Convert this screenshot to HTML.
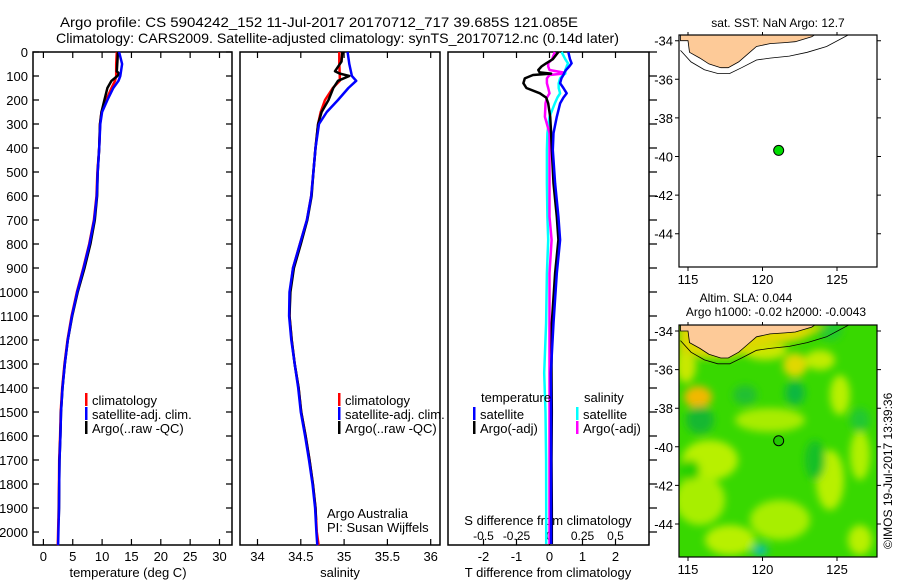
<!DOCTYPE html>
<html><head><meta charset="utf-8"><style>
html,body{margin:0;padding:0;background:#fff}
svg{display:block;font-family:"Liberation Sans",sans-serif}
text{fill:#000}
</style></head><body>
<svg id="chart" width="900" height="580" viewBox="0 0 900 580" xmlns="http://www.w3.org/2000/svg">
<defs>
<filter id="blur" x="-20%" y="-20%" width="140%" height="140%"><feGaussianBlur stdDeviation="4"/></filter>
<clipPath id="m1clip"><rect x="679" y="35" width="198" height="232"/></clipPath>
<clipPath id="m2clip"><rect x="679" y="325" width="198" height="232"/></clipPath>
</defs>
<text x="60" y="27" font-size="14" textLength="518" lengthAdjust="spacingAndGlyphs">Argo profile: CS 5904242_152 11-Jul-2017 20170712_717 39.685S 121.085E</text>
<text x="56" y="43" font-size="14" textLength="563" lengthAdjust="spacingAndGlyphs">Climatology: CARS2009. Satellite-adjusted climatology: synTS_20170712.nc (0.14d later)</text>
<text x="778" y="27" font-size="12" text-anchor="middle">sat. SST: NaN Argo: 12.7</text>
<text x="746" y="302" font-size="12" text-anchor="middle">Altim. SLA: 0.044</text>
<text x="776" y="316" font-size="12" text-anchor="middle">Argo h1000: -0.02 h2000: -0.0043</text>
<text transform="translate(892,549) rotate(-90)" font-size="12">©IMOS 19-Jul-2017 13:39:36</text>
<g id="plots"></g>
</svg>
<script>
// ---- data ----
const depthT = [0,50,100,120,150,200,250,300,400,500,600,700,800,900,1000,1100,1200,1300,1400,1500,1600,1700,1800,1900,2000,2055];
const tempClim = [12.5,12.4,12.4,12.2,11.6,10.7,9.9,9.65,9.5,9.2,9.05,8.6,7.8,6.8,5.7,4.8,4.1,3.6,3.2,2.95,2.85,2.7,2.65,2.6,2.5,2.45];
const tempSat  = [12.9,13.4,13.1,12.8,11.9,10.9,10.0,9.7,9.5,9.25,9.1,8.65,7.85,6.85,5.75,4.85,4.15,3.65,3.25,3.0,2.9,2.75,2.7,2.65,2.55,2.5];
const depthA = [0,40,80,90,100,120,150,200,250,300,400,500,600,700,800,900,1000,1100,1200,1300,1400,1500,1600,1700,1800,1900,1950];
const tempArgo = [12.7,12.6,12.5,12.9,12.6,11.6,10.9,10.4,9.9,9.65,9.5,9.25,9.15,8.75,8.0,7.0,5.85,4.9,4.15,3.65,3.25,3.0,2.9,2.75,2.7,2.65,2.6];
const salClim = [34.945,34.945,34.95,34.95,34.87,34.78,34.73,34.70,34.67,34.645,34.62,34.57,34.49,34.41,34.375,34.37,34.395,34.43,34.475,34.505,34.555,34.60,34.64,34.67,34.685,34.705];
const salSat  = [35.04,35.06,35.09,35.14,35.05,34.93,34.80,34.71,34.67,34.645,34.62,34.57,34.49,34.41,34.37,34.365,34.39,34.43,34.47,34.50,34.55,34.595,34.635,34.665,34.68,34.69];
const salArgo = [34.98,34.97,34.895,34.95,35.06,34.93,34.875,34.82,34.74,34.70,34.67,34.645,34.625,34.575,34.50,34.42,34.38,34.37,34.395,34.43,34.475,34.505,34.555,34.60,34.64,34.67,34.675];
const depthD = [0,30,47,60,75,85,90,96,110,130,150,172,190,214,270,338,408,547,686,783,922,1130,1338,1500,1700,1900,2050];
const dTsat  = [0.57,0.62,0.67,0.6,0.5,0.45,0.44,0.42,0.36,0.32,0.42,0.52,0.42,0.32,0.22,0.12,0.1,0.17,0.27,0.32,0.22,0.12,0.04,0.05,0.05,0.05,0.05];
const dTargo = [0.27,0.1,-0.1,-0.24,-0.34,-0.3,0.05,-0.5,-0.75,-0.79,-0.7,-0.29,-0.1,-0.04,0.02,0.05,0.07,0.12,0.22,0.27,0.17,0.07,0.06,0.07,0.06,0.07,0.07];
const dSsat  = [0.092,0.12,0.14,0.13,0.12,0.12,0.12,0.1,0.08,0.07,0.07,0.08,0.06,0.04,0.0,-0.016,-0.02,-0.02,-0.016,-0.01,-0.02,-0.026,-0.04,-0.03,-0.026,-0.025,-0.025];
const dSargo = [0.04,0.02,-0.01,-0.01,0.0,0.1,0.1,0.0,-0.02,-0.02,-0.01,0.0,-0.02,-0.03,-0.035,0.0,0.0,0.0,0.0,0.016,0.0,0.0,0.0,0.0,0.0,0.0,0.0];
const depthTicks = [0,100,200,300,400,500,600,700,800,900,1000,1100,1200,1300,1400,1500,1600,1700,1800,1900,2000];
const tempTicks = [0,5,10,15,20,25,30];
const salTicks = [34,34.5,35,35.5,36];
const salTickLabels = ["34","34.5","35","35.5","36"];
const tdiffTicks = [-2,-1,0,1,2];
const sdiffTicks = [-0.5,-0.25,0,0.25,0.5];
const sdiffTickLabels = ["-0.5","-0.25","0","0.25","0.5"];
const lonTicks = [115,120,125];
const latTicks = [-34,-36,-38,-40,-42,-44];
const argoLon = 121.085, argoLat = -39.685;

// ---- axes ----
const yD = d => 52 + d*0.24;
const xT = t => 43.4 + t*5.87;
const xS = s => 257.5 + (s-34)*86.6;
const xTd = v => 549.5 + v*33;
const xSd = v => 549.5 + v*132;
const lonX = lo => 688 + (lo-115)*14.9;
const latY1 = la => 40.7 + (-34-la)*19.3;
const latY2 = la => 331 + (-34-la)*19.3;

const NS="http://www.w3.org/2000/svg";
const root=document.getElementById('plots');
function mk(tag, attrs, parent){const e=document.createElementNS(NS,tag);for(const k in attrs)e.setAttribute(k,attrs[k]);(parent||root).appendChild(e);return e;}
function txt(s, attrs, name){const e=mk('text',attrs);e.textContent=s;


return e;}

function panel(x0,x1,name){
  const r=mk('rect',{x:x0,y:52,width:x1-x0,height:493,fill:'#fff',stroke:'#000','stroke-width':1.5});
  
  
}
panel(33,232,'temperature-panel');
panel(240,440,'salinity-panel');
panel(448,649,'difference-panel');

depthTicks.forEach(d=>{
  const y=yD(d);
  txt(String(d),{x:28,y:y+5,'font-size':13,'text-anchor':'end'},'depth-tick-label');
  const t1=mk('path',{d:`M33 ${y}h6M232 ${y}h-6M649 ${y}h8`,stroke:'#000','stroke-width':1.2});
  
  
});
function xticks(vals,labels,f,name){
  vals.forEach((v,i)=>{const x=f(v);
    const t=mk('path',{d:`M${x} 52v6M${x} 545v-6`,stroke:'#000','stroke-width':1.2});
    
    
    txt(labels[i],{x:x,y:561,'font-size':13,'text-anchor':'middle'},name+'-tick-label');
  });
}
xticks(tempTicks,tempTicks.map(String),xT,'temperature');
xticks(salTicks,salTickLabels,xS,'salinity');
xticks(tdiffTicks,tdiffTicks.map(String),xTd,'t-diff');
sdiffTicks.forEach((v,i)=>txt(sdiffTickLabels[i],{x:xSd(v),y:540,'font-size':12,'text-anchor':'middle'},'s-diff-tick-label'));
txt('temperature (deg C)',{x:128,y:577,'font-size':13,'text-anchor':'middle'},'temperature-axis-title');
txt('salinity',{x:340,y:577,'font-size':13,'text-anchor':'middle'},'salinity-axis-title');
txt('T difference from climatology',{x:548,y:577,'font-size':13,'text-anchor':'middle'},'t-diff-axis-title');
txt('S difference from climatology',{x:548,y:525,'font-size':13,'text-anchor':'middle'},'s-diff-axis-title');
txt('Argo Australia',{x:327,y:518,'font-size':13},'credit-argo-australia');
txt('PI: Susan Wijffels',{x:327,y:532,'font-size':13},'credit-pi');

function line(xs,ds,fx,color,name){
  const d=xs.map((v,i)=>(i?'L':'M')+fx(v).toFixed(1)+' '+yD(ds[i]).toFixed(1)).join('');
  const p=mk('path',{d:d,fill:'none',stroke:color,'stroke-width':2.5,'stroke-linejoin':'round'});
  
  
}
line(tempClim,depthT,xT,'#f00','temperature-climatology-line');
line(tempArgo,depthA,xT,'#000','temperature-argo-line');
line(tempSat,depthT,xT,'#00f','temperature-satellite-line');
line(salClim,depthT,xS,'#f00','salinity-climatology-line');
line(salArgo,depthA,xS,'#000','salinity-argo-line');
line(salSat,depthT,xS,'#00f','salinity-satellite-line');
line(dSsat,depthD,xSd,'#0ff','s-diff-satellite-line');
line(dSargo,depthD,xSd,'#f0f','s-diff-argo-line');
line(dTargo,depthD,xTd,'#000','t-diff-argo-line');
line(dTsat,depthD,xTd,'#00f','t-diff-satellite-line');

function legend(x,y,color,label,name){
  const b=mk('rect',{x:x,y:y-7,width:2.5,height:13,fill:color});
  
  
  txt(label,{x:x+7,y:y+5,'font-size':13},name);
}
[[85],[338]].forEach(([lx])=>{
  legend(lx,400,'#f00','climatology','legend-climatology');
  legend(lx,414,'#00f','satellite-adj. clim.','legend-satellite-adj');
  legend(lx,428,'#000','Argo(..raw -QC)','legend-argo');
});
txt('temperature',{x:481,y:402,'font-size':13},'legend-temperature-heading');
txt('salinity',{x:584,y:402,'font-size':13},'legend-salinity-heading');
legend(473,414,'#00f','satellite','legend-t-satellite');
legend(473,428,'#000','Argo(-adj)','legend-t-argo');
legend(576,414,'#0ff','satellite','legend-s-satellite');
legend(576,428,'#f0f','Argo(-adj)','legend-s-argo');

// ---- maps ----
const coastLon=[114.5,115.0,115.1,115.8,116.4,117.2,117.7,118.4,119.0,119.6,120.5,121.5,122.2,123.3,123.5];
const coastLat=[-34.0,-34.0,-34.6,-34.9,-35.2,-35.4,-35.4,-35.1,-34.7,-34.3,-34.15,-34.1,-34.05,-33.8,-33.7];
const contLon=[114.5,115.2,116.1,117.0,117.8,118.6,119.6,120.5,121.8,123.0,124.3,126.0];
const contLat=[-34.5,-35.1,-35.5,-35.7,-35.7,-35.4,-35.0,-34.9,-34.8,-34.6,-34.3,-33.6];

function map(top,latY,name,bg,clipId){
  const g=mk('g',{'clip-path':`url(#${clipId})`});
  
  
  mk('rect',{x:679,y:top,width:198,height:232,fill:bg},g);
  if(bg!=='#fff'){
    const blobs=[[698,397,14,11,'#f2b800'],[686,365,10,18,'#c8e800'],[765,350,22,10,'#c8e800'],[795,365,12,12,'#e0d800'],[840,395,10,20,'#b8f000'],[770,420,35,12,'#a8ec00'],[710,460,28,20,'#b8f000'],[700,500,25,25,'#a8ee00'],[780,520,30,20,'#a8ee00'],[830,480,14,30,'#b8f000'],[860,455,10,25,'#b0f000'],[730,540,25,15,'#b8f000'],[860,540,12,15,'#b8f000'],[820,360,15,10,'#c0ec00'],
      [795,393,10,12,'#10b840'],[700,420,14,14,'#18b830'],[760,550,8,6,'#10c0a0'],[815,460,10,20,'#18c028'],[690,470,10,10,'#28d000'],[830,330,12,10,'#20c830'],[745,395,12,10,'#20c030'],[860,420,10,12,'#20c830']];
    const bg2=mk('g',{filter:'url(#blur)'},g);
    blobs.forEach(b=>{const e=mk('ellipse',{cx:b[0],cy:b[1],rx:b[2],ry:b[3],fill:b[4]},bg2);
      
      });
    const yl=mk('path',{d:'M679 325L679 352L700 358L730 358L760 348L800 340L830 325Z',fill:'#e0d800',filter:'url(#blur)'},g);
    
    
  }
  const land='M'+coastLon.map((v,i)=>lonX(v).toFixed(1)+' '+latY(coastLat[i]).toFixed(1)).join('L')+`L${lonX(123.5)} ${top-5}L${lonX(114.5)} ${top-5}Z`;
  const l=mk('path',{d:land,fill:'#fdca98',stroke:'#000','stroke-width':0.8},g);
  
  
  const c=mk('path',{d:'M'+contLon.map((v,i)=>lonX(v).toFixed(1)+' '+latY(contLat[i]).toFixed(1)).join('L'),fill:'none',stroke:'#000','stroke-width':0.8},g);
  
  
  const fr=mk('rect',{x:679,y:top,width:198,height:232,fill:'none',stroke:'#000','stroke-width':1.2});
  
  
  latTicks.forEach(la=>{const y=latY(la);
    txt(String(la),{x:673,y:y+5,'font-size':13,'text-anchor':'end'},'latitude-tick-label');
    const t=mk('path',{d:`M679 ${y}h-4M877 ${y}h4`,stroke:'#000'});
    
    
  });
  lonTicks.forEach(lo=>{const x=lonX(lo);
    txt(String(lo),{x:x,y:top+232+17,'font-size':13,'text-anchor':'middle'},'longitude-tick-label');
    const t=mk('path',{d:`M${x} ${top}v-3M${x} ${top+232}v4`,stroke:'#000'});
    
    
  });
  const pt=mk('circle',{cx:lonX(argoLon),cy:latY(argoLat),r:5,fill:bg==='#fff'?'#00dd00':'#22c800',stroke:'#000','stroke-width':1});
  
  
}
map(35,latY1,'sst-map','#fff','m1clip');
map(325,latY2,'sla-map','#38d800','m2clip');
</script>
</body></html>
